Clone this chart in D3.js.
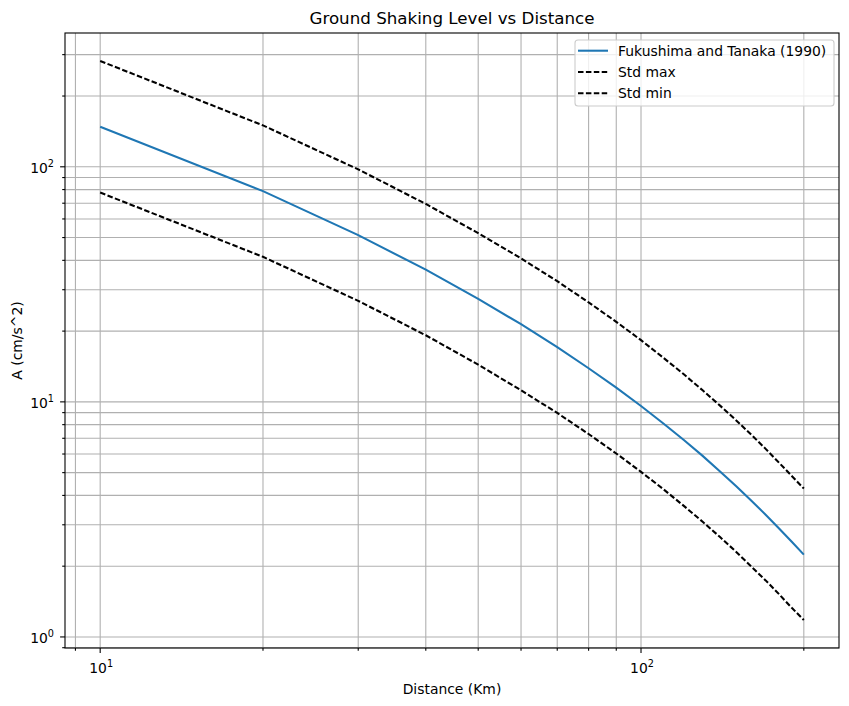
<!DOCTYPE html>
<html lang="en">
<head>
  <meta charset="UTF-8">
  <title>Ground Shaking Level vs Distance</title>
  <script src="https://d3js.org/d3.v7.min.js"></script>
  <style>
    body { margin: 0; background: #fff; }
    svg { font-family: "DejaVu Sans", sans-serif; display: block; }
  </style>
</head>
<body>
<div id="chart"></div>
<script>
// distances (Km) and values
const distance = [10, 20, 30, 40, 50, 60, 70, 80, 90, 100, 110, 120, 130, 140, 150, 160, 170, 180, 190, 200];
const fukushima = [148, 78.8, 51.2, 36.5, 27.4, 21.4, 17.1, 13.9, 11.5, 9.6, 8.09, 6.88, 5.89, 5.06, 4.38, 3.8, 3.31, 2.89, 2.54, 2.24];
const stdMax = [282, 150, 97.5, 69.5, 52.2, 40.8, 32.6, 26.5, 21.9, 18.3, 15.4, 13.1, 11.2, 9.64, 8.34, 7.24, 6.31, 5.51, 4.84, 4.28];
const stdMin = [77.7, 41.4, 26.9, 19.2, 14.4, 11.2, 8.97, 7.3, 6.03, 5.04, 4.25, 3.61, 3.09, 2.66, 2.3, 1.99, 1.74, 1.52, 1.33, 1.18];
const legendLabels = ["Fukushima and Tanaka (1990)", "Std max", "Std min"];

const W = 849, H = 706;
const mLeft = 65, mRight = 839, mTop = 33, mBottom = 648;

const svg = d3.select("#chart").append("svg")
  .attr("width", W).attr("height", H);

// log domains with a 5% margin like matplotlib
function logDomain(vals) {
  const lo = Math.log10(d3.min(vals)), hi = Math.log10(d3.max(vals));
  const m = (hi - lo) * 0.05;
  return [Math.pow(10, lo - m), Math.pow(10, hi + m)];
}
const x = d3.scaleLog().domain(logDomain(distance)).range([mLeft, mRight]);
const y = d3.scaleLog().domain(logDomain(stdMin.concat(stdMax))).range([mBottom, mTop]);

function ticksOf(scale) {
  const [a, b] = scale.domain();
  const major = [], minor = [];
  for (let e = Math.floor(Math.log10(a)); e <= Math.ceil(Math.log10(b)); e++) {
    for (let k = 1; k < 10; k++) {
      const v = k * Math.pow(10, e);
      if (v < a || v > b) continue;
      (k === 1 ? major : minor).push(v);
    }
  }
  return { major, minor };
}
const xt = ticksOf(x), yt = ticksOf(y);

// grid (both major and minor)
const grid = svg.append("g").attr("stroke", "#b0b0b0").attr("stroke-width", 1.1);
xt.major.concat(xt.minor).forEach(v => {
  grid.append("line").attr("x1", x(v)).attr("x2", x(v)).attr("y1", mTop).attr("y2", mBottom);
});
yt.major.concat(yt.minor).forEach(v => {
  grid.append("line").attr("x1", mLeft).attr("x2", mRight).attr("y1", y(v)).attr("y2", y(v));
});

// lines
const line = d3.line().x(d => x(d[0])).y(d => y(d[1]));
const series = [
  { vals: fukushima, color: "#1f77b4", dash: null },
  { vals: stdMax, color: "#000", dash: "5.5,2.4" },
  { vals: stdMin, color: "#000", dash: "5.5,2.4" }
];
series.forEach(s => {
  svg.append("path")
    .datum(distance.map((d, i) => [d, s.vals[i]]))
    .attr("d", line)
    .attr("fill", "none")
    .attr("stroke", s.color)
    .attr("stroke-width", 2.08)
    .attr("stroke-dasharray", s.dash);
});

// spines
svg.append("rect").attr("x", mLeft).attr("y", mTop)
  .attr("width", mRight - mLeft).attr("height", mBottom - mTop)
  .attr("fill", "none").attr("stroke", "#000").attr("stroke-width", 1.1);

// ticks
const tk = svg.append("g").attr("stroke", "#000").attr("stroke-width", 1.1);
xt.major.forEach(v => tk.append("line").attr("x1", x(v)).attr("x2", x(v)).attr("y1", mBottom).attr("y2", mBottom + 4.9));
xt.minor.forEach(v => tk.append("line").attr("x1", x(v)).attr("x2", x(v)).attr("y1", mBottom).attr("y2", mBottom + 2.8));
yt.major.forEach(v => tk.append("line").attr("x1", mLeft).attr("x2", mLeft - 4.9).attr("y1", y(v)).attr("y2", y(v)));
yt.minor.forEach(v => tk.append("line").attr("x1", mLeft).attr("x2", mLeft - 2.8).attr("y1", y(v)).attr("y2", y(v)));

function powLabel(g, v) {
  const e = Math.round(Math.log10(v));
  g.append("tspan").text("10");
  g.append("tspan").attr("font-size", 9.7).attr("dy", -6).text(e);
}
xt.major.forEach(v => {
  const t = svg.append("text").attr("x", x(v) + 1).attr("y", 673)
    .attr("text-anchor", "middle").attr("font-size", 13.9).attr("fill", "#000");
  powLabel(t, v);
});
yt.major.forEach(v => {
  const t = svg.append("text").attr("x", 54).attr("y", y(v) + 6.5)
    .attr("text-anchor", "end").attr("font-size", 13.9).attr("fill", "#000");
  powLabel(t, v);
});

// labels and title
svg.append("text").attr("x", (mLeft + mRight) / 2).attr("y", 694)
  .attr("text-anchor", "middle").attr("font-size", 13.9).text("Distance (Km)");
svg.append("text").attr("transform", `translate(21.5,${(mTop + mBottom) / 2}) rotate(-90)`)
  .attr("text-anchor", "middle").attr("font-size", 13.9).text("A (cm/s^2)");
svg.append("text").attr("x", (mLeft + mRight) / 2).attr("y", 24)
  .attr("text-anchor", "middle").attr("font-size", 16.7).text("Ground Shaking Level vs Distance");

// legend
const lg = svg.append("g");
lg.append("rect").attr("x", 575).attr("y", 40).attr("width", 259).attr("height", 66)
  .attr("rx", 3).attr("fill", "#fff").attr("fill-opacity", 0.8)
  .attr("stroke", "#cccccc").attr("stroke-width", 1.1);
series.forEach((s, i) => {
  const cy = 50.7 + i * 21.3;
  lg.append("line").attr("x1", 578).attr("x2", 608).attr("y1", cy).attr("y2", cy)
    .attr("stroke", s.color).attr("stroke-width", 2.08).attr("stroke-dasharray", s.dash);
  lg.append("text").attr("x", 618).attr("y", cy + 5).attr("font-size", 13.9)
    .text(legendLabels[i]);
});
</script>
</body>
</html>
